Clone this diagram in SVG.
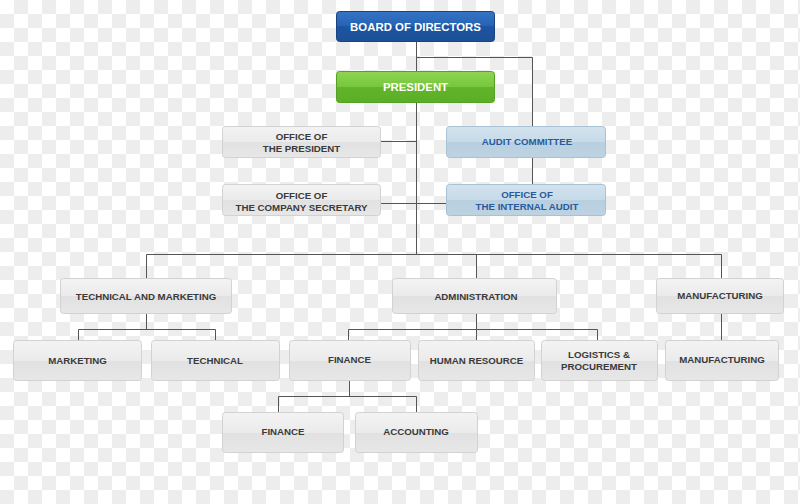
<svg xmlns="http://www.w3.org/2000/svg" width="800" height="504" viewBox="0 0 800 504">
<defs>
<pattern id="chk" width="28" height="28" patternUnits="userSpaceOnUse">
<rect width="28" height="28" fill="#ffffff"/>
<rect x="14" y="0" width="14" height="14" fill="#ededed"/>
<rect x="0" y="14" width="14" height="14" fill="#ededed"/>
</pattern>
<linearGradient id="gGray" x1="0" y1="0" x2="0" y2="1">
<stop offset="0" stop-color="#f3f3f3"/>
<stop offset="0.5" stop-color="#ebebeb"/>
<stop offset="0.5" stop-color="#e1e1e1"/>
<stop offset="1" stop-color="#e7e7e7"/>
</linearGradient>
<linearGradient id="gBlue" x1="0" y1="0" x2="0" y2="1">
<stop offset="0" stop-color="#3574c4"/>
<stop offset="0.5" stop-color="#2562b3"/>
<stop offset="0.5" stop-color="#1c55a3"/>
<stop offset="1" stop-color="#1d4f96"/>
</linearGradient>
<linearGradient id="gGreen" x1="0" y1="0" x2="0" y2="1">
<stop offset="0" stop-color="#8fd451"/>
<stop offset="0.5" stop-color="#76c73c"/>
<stop offset="0.5" stop-color="#62b52a"/>
<stop offset="1" stop-color="#5aad27"/>
</linearGradient>
<linearGradient id="gLBlue" x1="0" y1="0" x2="0" y2="1">
<stop offset="0" stop-color="#d3e3ee"/>
<stop offset="0.5" stop-color="#c6dae8"/>
<stop offset="0.5" stop-color="#b8cfdf"/>
<stop offset="1" stop-color="#bdd3e2"/>
</linearGradient>
</defs>
<style>
.gray{fill:url(#gGray);stroke:#d2d2d2;stroke-width:1}
.blue{fill:url(#gBlue);stroke:#1a4380;stroke-width:1}
.green{fill:url(#gGreen);stroke:#57a024;stroke-width:1}
.lblue{fill:url(#gLBlue);stroke:#a9c2d3;stroke-width:1}
text{font-family:"Liberation Sans",Arial,sans-serif;font-weight:bold;text-anchor:middle}
.tg{font-size:9.7px;fill:#3a3a3a}
.tb{font-size:9.7px;fill:#2a5a9c}
.tw{font-size:11.4px;fill:#ffffff}
#connectors path{fill:none;stroke:#555555;stroke-width:1}
</style>
<rect width="800" height="504" fill="url(#chk)"/>
<g id="connectors">
<path d="M416.5 41V254.5"/>
<path d="M416.5 57.5H532.5V126"/>
<path d="M532.5 157V184"/>
<path d="M381 141.5H416.5"/>
<path d="M381 203.5H446"/>
<path d="M146.5 278V254.5H721.5V278"/>
<path d="M476.5 254.5V278"/>
<path d="M146.5 313V329.5"/>
<path d="M78.5 340V329.5H215.5V340"/>
<path d="M476.5 313V340"/>
<path d="M348.5 340V329.5H597.5V340"/>
<path d="M721.5 313V340"/>
<path d="M349.5 380V396.5"/>
<path d="M278.5 412V396.5H416.5V412"/>
</g>
<g id="board"><rect class="blue" x="336.5" y="11.5" width="158" height="30" rx="3"/><text class="tw" x="415.5" y="30.5">BOARD OF DIRECTORS</text></g>
<g id="president"><rect class="green" x="336.5" y="71.5" width="158" height="31" rx="3"/><text class="tw" x="415.5" y="91">PRESIDENT</text></g>
<g id="office-president"><rect class="gray" x="222.5" y="126.5" width="158" height="31" rx="3"/><text class="tg" x="301.5" y="140">OFFICE OF</text><text class="tg" x="301.5" y="152">THE PRESIDENT</text></g>
<g id="audit-committee"><rect class="lblue" x="446.5" y="126.5" width="159" height="31" rx="3"/><text class="tb" x="527" y="145">AUDIT COMMITTEE</text></g>
<g id="office-secretary"><rect class="gray" x="222.5" y="184.5" width="158" height="31" rx="3"/><text class="tg" x="301.5" y="199">OFFICE OF</text><text class="tg" x="301.5" y="211">THE COMPANY SECRETARY</text></g>
<g id="internal-audit"><rect class="lblue" x="446.5" y="184.5" width="159" height="31" rx="3"/><text class="tb" x="527" y="198">OFFICE OF</text><text class="tb" x="527" y="210">THE INTERNAL AUDIT</text></g>
<g id="tech-marketing"><rect class="gray" x="60.5" y="278.5" width="171" height="35" rx="3"/><text class="tg" x="146" y="300">TECHNICAL AND MARKETING</text></g>
<g id="administration"><rect class="gray" x="392.5" y="278.5" width="164" height="35" rx="3"/><text class="tg" x="476" y="300">ADMINISTRATION</text></g>
<g id="manufacturing"><rect class="gray" x="656.5" y="278.5" width="127" height="35" rx="3"/><text class="tg" x="720" y="299">MANUFACTURING</text></g>
<g id="marketing"><rect class="gray" x="13.5" y="340.5" width="128" height="40" rx="3"/><text class="tg" x="77.5" y="364">MARKETING</text></g>
<g id="technical"><rect class="gray" x="151.5" y="340.5" width="128" height="40" rx="3"/><text class="tg" x="215" y="364">TECHNICAL</text></g>
<g id="finance"><rect class="gray" x="289.5" y="340.5" width="121" height="40" rx="3"/><text class="tg" x="349.5" y="363">FINANCE</text></g>
<g id="human-resource"><rect class="gray" x="418.5" y="340.5" width="116" height="40" rx="3"/><text class="tg" x="476.5" y="364">HUMAN RESOURCE</text></g>
<g id="logistics"><rect class="gray" x="541.5" y="340.5" width="116" height="40" rx="3"/><text class="tg" x="599" y="358">LOGISTICS &amp;</text><text class="tg" x="599" y="370">PROCUREMENT</text></g>
<g id="manufacturing-2"><rect class="gray" x="665.5" y="340.5" width="113" height="40" rx="3"/><text class="tg" x="722" y="363">MANUFACTURING</text></g>
<g id="finance-2"><rect class="gray" x="222.5" y="412.5" width="121" height="40" rx="3"/><text class="tg" x="283" y="435">FINANCE</text></g>
<g id="accounting"><rect class="gray" x="355.5" y="412.5" width="122" height="40" rx="3"/><text class="tg" x="416" y="435">ACCOUNTING</text></g>
</svg>
